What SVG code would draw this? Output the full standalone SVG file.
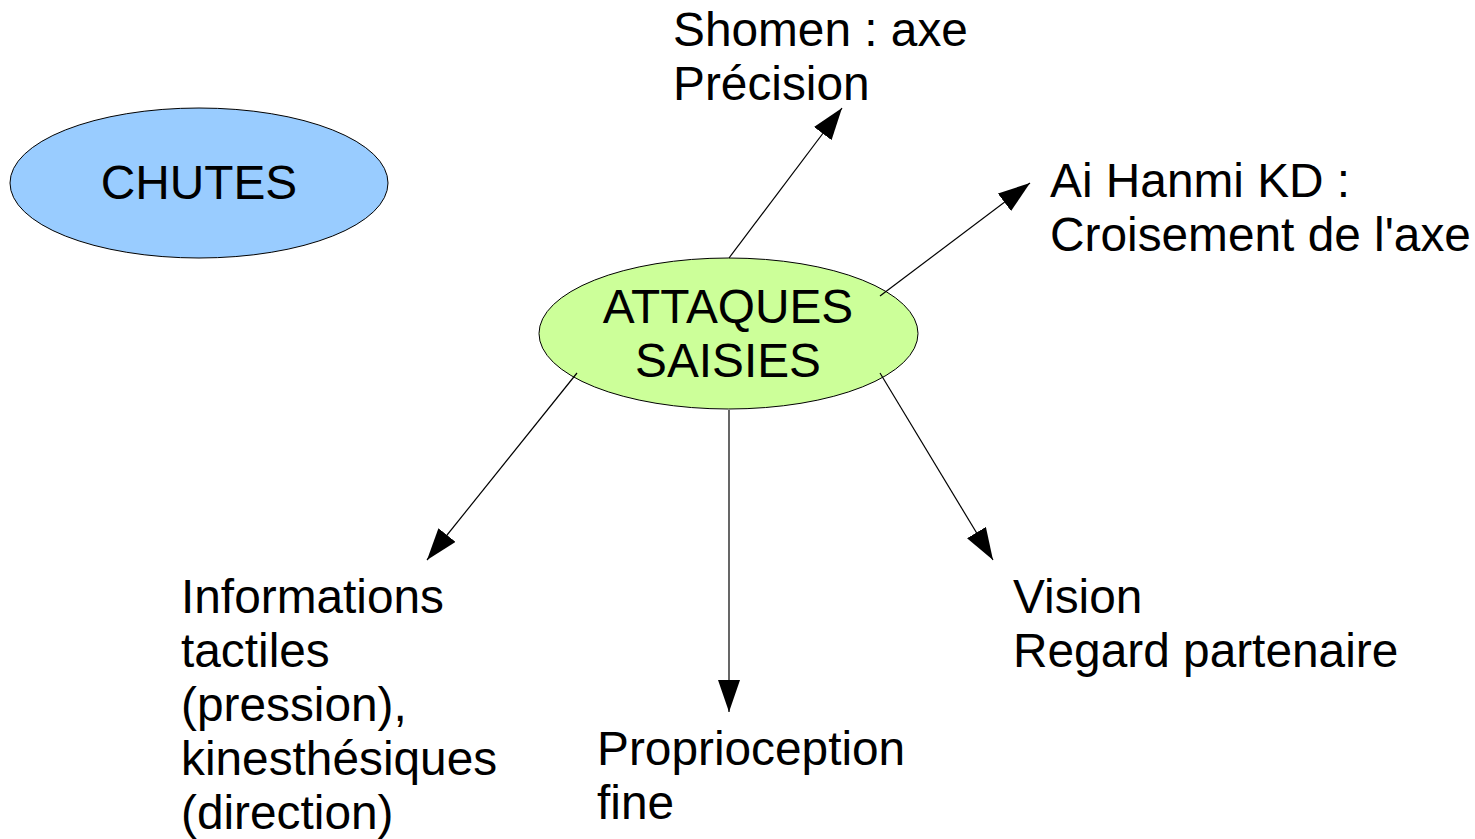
<svg xmlns="http://www.w3.org/2000/svg" width="1475" height="839" viewBox="0 0 1475 839">
<style>
text{font-family:"Liberation Sans",Arial,sans-serif;font-size:47.8px;fill:#000}
.c{text-anchor:middle}
.n{stroke:#000;stroke-width:1}
.e{stroke:#000;stroke-width:1.2;fill:none}
</style>
<defs>
<marker id="ah" markerUnits="userSpaceOnUse" markerWidth="34" markerHeight="22" refX="32" refY="11" orient="auto">
<path d="M0,0 L32,11 L0,22 Z" fill="#000"/>
</marker>
</defs>
<rect width="1475" height="839" fill="#fff"/>
<g id="chutes">
<ellipse class="n" cx="199" cy="183" rx="189" ry="75" fill="#99ccff"/>
<text class="c" x="199" y="199">CHUTES</text>
</g>
<g id="attaques">
<ellipse class="n" cx="728.5" cy="333.5" rx="189.5" ry="75.5" fill="#ccff99"/>
<text class="c" x="728" y="323">ATTAQUES</text>
<text class="c" x="728" y="377">SAISIES</text>
</g>
<g id="shomen">
<text x="673" y="46">Shomen : axe</text>
<text x="673" y="100">Précision</text>
</g>
<g id="aihanmi">
<text x="1050" y="197">Ai Hanmi KD :</text>
<text x="1050" y="251">Croisement de l'axe</text>
</g>
<g id="informations">
<text x="181" y="613">Informations</text>
<text x="181" y="667">tactiles</text>
<text x="181" y="721">(pression),</text>
<text x="181" y="775">kinesthésiques</text>
<text x="181" y="829">(direction)</text>
</g>
<g id="proprioception">
<text x="597" y="765">Proprioception</text>
<text x="597" y="819">fine</text>
</g>
<g id="vision">
<text x="1013" y="613">Vision</text>
<text x="1013" y="667">Regard partenaire</text>
</g>
<g id="connectors">
<line class="e" x1="729" y1="258" x2="842" y2="108" marker-end="url(#ah)"/>
<line class="e" x1="880" y1="296" x2="1030" y2="183" marker-end="url(#ah)"/>
<line class="e" x1="577" y1="373" x2="427" y2="560" marker-end="url(#ah)"/>
<line class="e" x1="729" y1="410" x2="729" y2="712" marker-end="url(#ah)"/>
<line class="e" x1="880" y1="373" x2="993" y2="560" marker-end="url(#ah)"/>
</g>
</svg>
